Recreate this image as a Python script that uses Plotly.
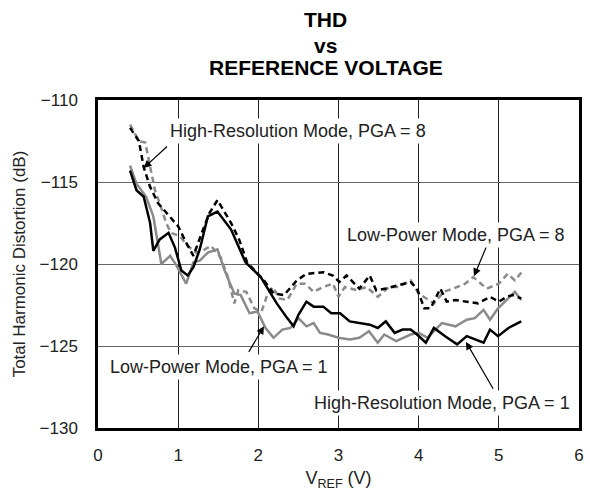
import plotly.graph_objects as go

# THD vs reference voltage, four modes
hr8_x = [0.40, 0.51, 0.57, 0.65, 0.75, 0.88, 1.00, 1.10, 1.19, 1.31, 1.39, 1.49, 1.66, 1.76,
         1.86, 2.07, 2.19, 2.32, 2.48, 2.60, 2.81, 2.93, 3.01, 3.10, 3.26, 3.39, 3.47, 3.59,
         3.90, 3.98, 4.07, 4.15, 4.27, 4.35, 4.46, 4.74, 4.89, 5.00, 5.10, 5.17, 5.28]
hr8_y = [-111.7, -112.5, -114.1, -115.3, -116.3, -117.0, -117.7, -118.7, -119.5, -117.9,
         -116.9, -116.1, -117.5, -118.5, -119.9, -121.0, -121.8, -121.9, -121.0, -120.6,
         -120.5, -120.7, -121.1, -120.7, -121.5, -120.7, -121.6, -121.5, -121.1, -121.5,
         -122.7, -122.7, -121.5, -122.3, -122.2, -122.4, -122.0, -122.3, -122.0, -121.9, -122.1]

lp8_x = [0.40, 0.51, 0.59, 0.65, 0.71, 0.77, 0.85, 0.91, 1.02, 1.12, 1.22, 1.30, 1.41, 1.53,
         1.62, 1.70, 1.75, 1.85, 1.95, 2.04, 2.11, 2.18, 2.26, 2.36, 2.48, 2.58, 2.69, 2.81,
         2.93, 3.00, 3.08, 3.23, 3.35, 3.49, 3.63, 3.75, 3.90, 4.00, 4.19, 4.31, 4.43, 4.58,
         4.68, 4.85, 5.00, 5.11, 5.20, 5.30]
lp8_y = [-111.5, -112.5, -112.6, -114.1, -115.5, -116.3, -117.5, -118.1, -118.3, -118.9,
         -119.3, -119.2, -118.9, -119.6, -120.8, -122.4, -121.6, -121.7, -122.7, -122.9,
         -121.9, -121.4, -122.1, -122.2, -121.2, -121.2, -121.7, -121.4, -121.2, -122.0,
         -121.4, -121.6, -121.4, -122.0, -121.4, -121.4, -121.0, -121.8, -122.4, -121.7,
         -121.5, -121.2, -120.8, -121.5, -121.2, -120.6, -121.0, -120.4]

lp1_x = [0.40, 0.48, 0.60, 0.69, 0.79, 0.90, 0.98, 1.10, 1.19, 1.27, 1.37, 1.49, 1.58, 1.70,
         1.78, 1.89, 1.99, 2.09, 2.19, 2.30, 2.40, 2.50, 2.60, 2.69, 2.77, 2.87, 3.00, 3.14,
         3.26, 3.38, 3.49, 3.57, 3.72, 3.90, 4.00, 4.11, 4.29, 4.46, 4.60, 4.70, 4.81, 4.89,
         4.99, 5.20, 5.28]
lp1_y = [-114.0, -115.1, -115.9, -117.1, -120.0, -119.5, -120.1, -121.2, -119.9, -119.8,
         -119.3, -119.1, -120.4, -121.8, -121.9, -123.0, -122.9, -123.9, -124.5, -124.0,
         -123.9, -123.3, -123.8, -123.6, -124.2, -124.3, -124.5, -124.6, -124.5, -124.1,
         -124.8, -124.3, -124.7, -124.3, -124.2, -124.5, -123.6, -123.8, -123.4, -123.3,
         -122.8, -123.4, -122.7, -121.7, -122.2]

hr1_x = [0.40, 0.48, 0.57, 0.65, 0.69, 0.77, 0.88, 0.96, 1.04, 1.12, 1.19, 1.27, 1.37, 1.49,
         1.66, 1.84, 2.03, 2.13, 2.23, 2.36, 2.44, 2.50, 2.60, 2.69, 2.81, 2.91, 3.02, 3.14,
         3.26, 3.39, 3.49, 3.59, 3.70, 3.80, 3.90, 3.98, 4.09, 4.19, 4.33, 4.48, 4.60, 4.70,
         4.81, 4.89, 4.99, 5.12, 5.20, 5.28]
hr1_y = [-114.3, -115.5, -115.9, -117.5, -119.2, -118.5, -118.1, -119.0, -120.4, -120.7,
         -120.2, -119.1, -117.1, -116.8, -117.9, -119.9, -120.8, -121.6, -122.4, -123.3,
         -123.8, -123.1, -122.3, -122.6, -122.6, -123.0, -123.0, -123.5, -123.6, -123.7,
         -123.9, -123.5, -124.2, -124.0, -124.0, -124.3, -124.8, -123.9, -124.4, -124.9,
         -124.4, -124.6, -124.8, -124.0, -124.4, -123.9, -123.7, -123.5]

x_ticks = [0, 1, 2, 3, 4, 5, 6]
y_ticks = [-130, -125, -120, -115, -110]

# label text, label centre, arrow tail, arrow head
labels = [
    ("High-Resolution Mode, PGA = 8", 2.50, -111.9, 0.88, -112.75, 0.57, -114.15),
    ("Low-Power Mode, PGA = 8", 4.46, -118.25, 4.87, -118.65, 4.69, -120.75),
    ("Low-Power Mode, PGA = 1", 1.51, -126.25, 1.87, -125.45, 2.07, -123.8),
    ("High-Resolution Mode, PGA = 1", 4.29, -128.45, 4.94, -127.7, 4.59, -124.75),
]

FONT = "Liberation Sans, Arial, Helvetica, sans-serif"
GRAY = "#8a8a8a"

fig = go.Figure()
fig.add_scatter(x=lp8_x, y=lp8_y, mode="lines", line=dict(color=GRAY, width=2.5, dash="6px,4px"))
fig.add_scatter(x=lp1_x, y=lp1_y, mode="lines", line=dict(color=GRAY, width=2.5))
fig.add_scatter(x=hr8_x, y=hr8_y, mode="lines", line=dict(color="black", width=2.5, dash="6px,4px"))
fig.add_scatter(x=hr1_x, y=hr1_y, mode="lines", line=dict(color="black", width=2.5))

for text, tx, ty, ax, ay, hx, hy in labels:
    # arrow first, then the white-backed text over the grid
    fig.add_annotation(x=hx, y=hy, ax=ax, ay=ay, xref="x", yref="y", axref="x", ayref="y",
                       text="", showarrow=True, arrowhead=2, arrowsize=1.3, arrowwidth=1.2,
                       arrowcolor="black", standoff=0)
    fig.add_annotation(x=tx, y=ty, xref="x", yref="y", text=text, showarrow=False,
                       bgcolor="white", borderpad=2,
                       font=dict(family=FONT, size=18, color="#222"))

# three-line bold title
for txt, py in [("THD", 1.244), ("vs", 1.165), ("REFERENCE VOLTAGE", 1.099)]:
    fig.add_annotation(x=0.473, y=py, xref="paper", yref="paper", text="<b>" + txt + "</b>",
                       showarrow=False, yanchor="middle",
                       font=dict(family=FONT, size=21, color="black"))

fig.update_xaxes(range=[0, 6], tickvals=x_ticks, showgrid=True, gridcolor="#222", gridwidth=1.2,
                 showline=True, mirror=True, linecolor="black", linewidth=2.5, zeroline=False,
                 ticks="", ticklabelstandoff=10, tickfont=dict(family=FONT, size=17, color="#222"),
                 title=dict(text="V<sub>REF</sub> (V)", standoff=8,
                            font=dict(family=FONT, size=18, color="#222")))
fig.update_yaxes(range=[-130, -110], tickvals=y_ticks, showgrid=True, gridcolor="#666", gridwidth=1.2,
                 showline=True, mirror=True, linecolor="black", linewidth=2.5, zeroline=False,
                 ticks="", ticklabelstandoff=14, tickfont=dict(family=FONT, size=17, color="#222"),
                 title=dict(text="Total Harmonic Distortion (dB)", standoff=10,
                            font=dict(family=FONT, size=17, color="#222")))

fig.update_layout(
    width=590, height=494,
    margin=dict(l=98, r=6, t=100, b=66),
    plot_bgcolor="white", paper_bgcolor="white",
    showlegend=False,
)

config = {"displayModeBar": False, "displaylogo": False}

# drop the browser's default 8px body margin so the figure fills the window
fig.write_html("out.html", config=config, post_script="document.body.style.margin='0';")
